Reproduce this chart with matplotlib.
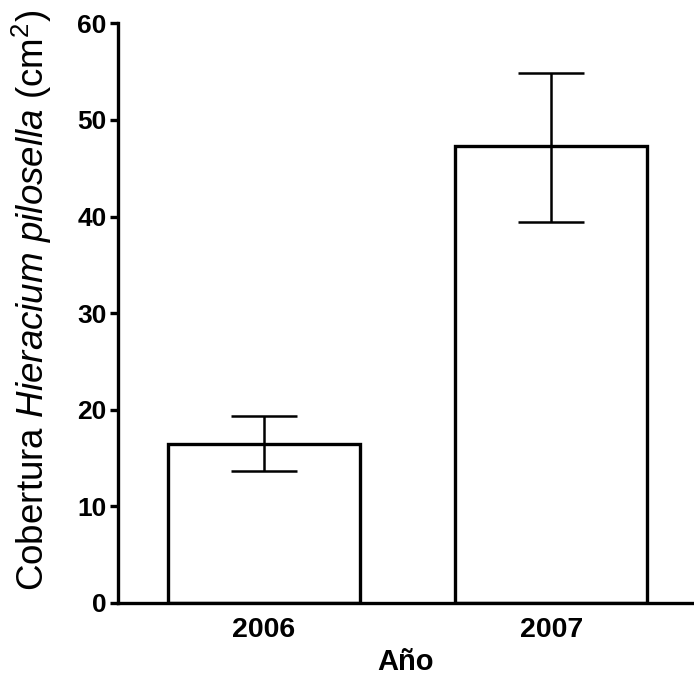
import matplotlib
matplotlib.use("Agg")
import matplotlib.pyplot as plt
from matplotlib import font_manager as fm

years = ["2006", "2007"]
means = [16.5, 47.3]
err_low = [2.85, 7.9]
err_high = [2.9, 7.6]
yticks = [0, 10, 20, 30, 40, 50, 60]

plt.rcParams['font.family'] = ['Liberation Sans', 'DejaVu Sans']
plt.rcParams['mathtext.fontset'] = 'custom'
plt.rcParams['mathtext.rm'] = 'Liberation Sans'
plt.rcParams['mathtext.it'] = 'Liberation Sans:italic'

bold_file = None
for fam in ['Liberation Sans', 'Arimo', 'Open Sans', 'Noto Sans', 'Lato', 'Inter', 'DejaVu Sans']:
    for f in fm.fontManager.ttflist:
        w = f.weight if isinstance(f.weight, int) else (700 if 'bold' in str(f.weight) else 400)
        low = f.fname.lower()
        if f.name == fam and w >= 700 and f.style == 'normal' and 'narrow' not in low \
                and 'condensed' not in low and 'extrabold' not in low and 'black' not in low:
            bold_file = f.fname
            break
    if bold_file:
        break

def bprops(size):
    return fm.FontProperties(fname=bold_file, size=size)

fig = plt.figure(figsize=(6.94, 6.86), dpi=100)
ax = fig.add_axes([0.170, 0.121, 0.830, 0.845])

x = list(range(len(years)))
ax.bar(x, means, width=0.668, color='white', edgecolor='black', linewidth=2.4, zorder=2)
ax.errorbar(x, means, yerr=[err_low, err_high], fmt='none', ecolor='black',
            elinewidth=1.8, capsize=24, capthick=1.8, zorder=3)

ax.set_xlim(-0.508, 1.496)
ax.set_ylim(0, 60)
ax.set_yticks(yticks)
ax.set_xticks(x)
ax.set_xticklabels(years)
ax.set_yticklabels([str(v) for v in yticks])
for lab in ax.get_xticklabels():
    lab.set_fontproperties(bprops(20.5))
for lab in ax.get_yticklabels():
    lab.set_fontproperties(bprops(19))
ax.tick_params(axis='y', length=6, width=2.4, pad=2)
ax.tick_params(axis='x', length=0, pad=10)

for s in ['top', 'right']:
    ax.spines[s].set_visible(False)
for s in ['left', 'bottom']:
    ax.spines[s].set_linewidth(2.4)

ax.set_ylabel('Cobertura $\\mathit{Hieracium\\ pilosella}$ (cm$^2$)', fontsize=26.5)
ax.yaxis.set_label_coords(-0.111, 0.522)
ax.set_xlabel('Año', fontproperties=bprops(21), labelpad=4)

fig.savefig('out.png', dpi=100)
